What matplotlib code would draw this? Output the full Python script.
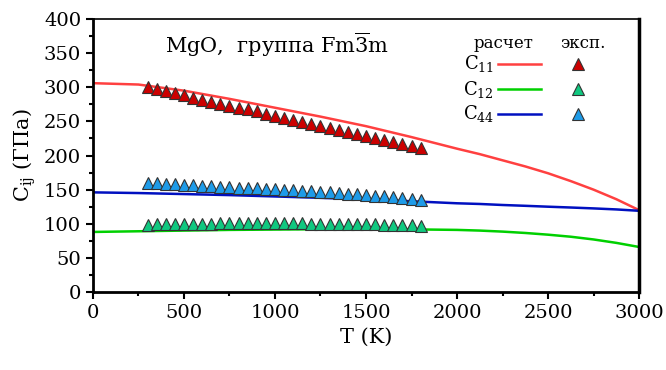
import matplotlib
matplotlib.use("Agg")
import matplotlib.pyplot as plt
from matplotlib.ticker import MultipleLocator

plt.rcParams['font.family'] = ['DejaVu Serif']
plt.rcParams['mathtext.fontset'] = 'dejavuserif'

# calculated curves
T_calc = [0, 250, 500, 750, 1000, 1250, 1500, 1750, 2000, 2125, 2250, 2375, 2500, 2625,
          2750, 2875, 3000]
C11_calc = [306, 304, 295, 283, 270, 257, 243, 227, 210, 202, 193, 184, 174, 162.5,
            150, 136, 120]
C12_calc = [88, 89, 90, 91, 91.5, 92, 92, 91.8, 91, 90, 88.5, 86.5, 84, 81,
            77, 72, 66]
C44_calc = [146, 145, 143.5, 142, 140, 138, 135.5, 133, 130, 129, 127.5, 126.3, 125, 123.8,
            122.5, 121, 119]

# experimental points
T_exp = [300, 350, 400, 450, 500, 550, 600, 650, 700, 750, 800, 850, 900, 950, 1000,
         1050, 1100, 1150, 1200, 1250, 1300, 1350, 1400, 1450, 1500, 1550, 1600,
         1650, 1700, 1750, 1800]
C11_exp = [300, 297, 294, 291, 288, 285, 282, 279, 276, 273, 270, 267.5, 264.5, 261.5,
           258.5, 255.5, 252.5, 249.5, 246.5, 243.5, 240.5, 237.5, 234.5, 231.5, 228.5,
           226, 223, 220, 217, 214, 211]
C12_exp = [98, 99, 99.5, 99.5, 100, 100, 100, 100, 100.5, 100.5, 100.5, 100.5, 100.5,
           100.5, 100.5, 100.5, 100.5, 100.5, 100, 100, 100, 100, 99.5, 99.5, 99, 99,
           98.5, 98.5, 98, 97.5, 97]
C44_exp = [159.5, 159, 158.5, 158, 157, 156.5, 156, 155, 154.5, 154, 153, 152.5, 152,
           151, 150.5, 150, 149, 148.5, 148, 147, 146, 145, 144, 143, 142, 141, 140,
           139, 138, 136.5, 134.5]

labels = [r"C$_{11}$", r"C$_{12}$", r"C$_{44}$"]
line_colors = ['#FF4040', '#00D000', '#0010C0']
mark_colors = ['#CC0000', '#10C880', '#1E9BE8']

fig = plt.figure(figsize=(6.66, 3.70), dpi=100)
ax = fig.add_axes([0.1396, 0.2108, 0.8199, 0.7378])

for yc, c in zip([C11_calc, C12_calc, C44_calc], line_colors):
    ax.plot(T_calc, yc, color=c, lw=1.8, zorder=2)
for ye, c in zip([C11_exp, C12_exp, C44_exp], mark_colors):
    ax.plot(T_exp, ye, ls='none', marker='^', ms=8.5, mfc=c, mec='#333333', mew=0.8, zorder=3)

ax.set_xlim(0, 3000)
ax.set_ylim(0, 400)
ax.xaxis.set_major_locator(MultipleLocator(500))
ax.xaxis.set_minor_locator(MultipleLocator(250))
ax.yaxis.set_major_locator(MultipleLocator(50))
ax.yaxis.set_minor_locator(MultipleLocator(25))
ax.tick_params(which='major', direction='out', length=5, width=1.5, labelsize=14,
               top=False, right=False)
ax.tick_params(which='minor', direction='out', length=3, width=1.5, top=False, right=False)
for s in ['left', 'bottom']:
    ax.spines[s].set_linewidth(2)
ax.spines['right'].set_linewidth(2.5)
ax.spines['top'].set_linewidth(1.2)

ax.set_xlabel("T (K)", fontsize=15)
ax.set_ylabel(r"C$_{\rm ij}$ (ГПа)", fontsize=15)

ax.text(0.132, 0.905, r"MgO,  группа Fm$\overline{\mathrm{3}}$m", transform=ax.transAxes,
        fontsize=15, ha='left', va='center')

# custom legend
fig.text(503 / 666, 1 - 44 / 370, "расчет", fontsize=12, ha='center', va='center')
fig.text(583 / 666, 1 - 44 / 370, "эксп.", fontsize=12, ha='center', va='center')
rows_y = [64, 89, 114]
for lab, lc, mc, ry in zip(labels, line_colors, mark_colors, rows_y):
    yf = 1 - ry / 370
    fig.text(494 / 666, yf, lab, fontsize=13, ha='right', va='center')
    fig.add_artist(plt.Line2D([498 / 666, 541 / 666], [yf, yf], color=lc, lw=1.8))
    fig.add_artist(plt.Line2D([578 / 666], [yf], ls='none', marker='^', ms=8.5, mfc=mc,
                              mec='#333333', mew=0.8))

fig.savefig("out.png", dpi=100)
